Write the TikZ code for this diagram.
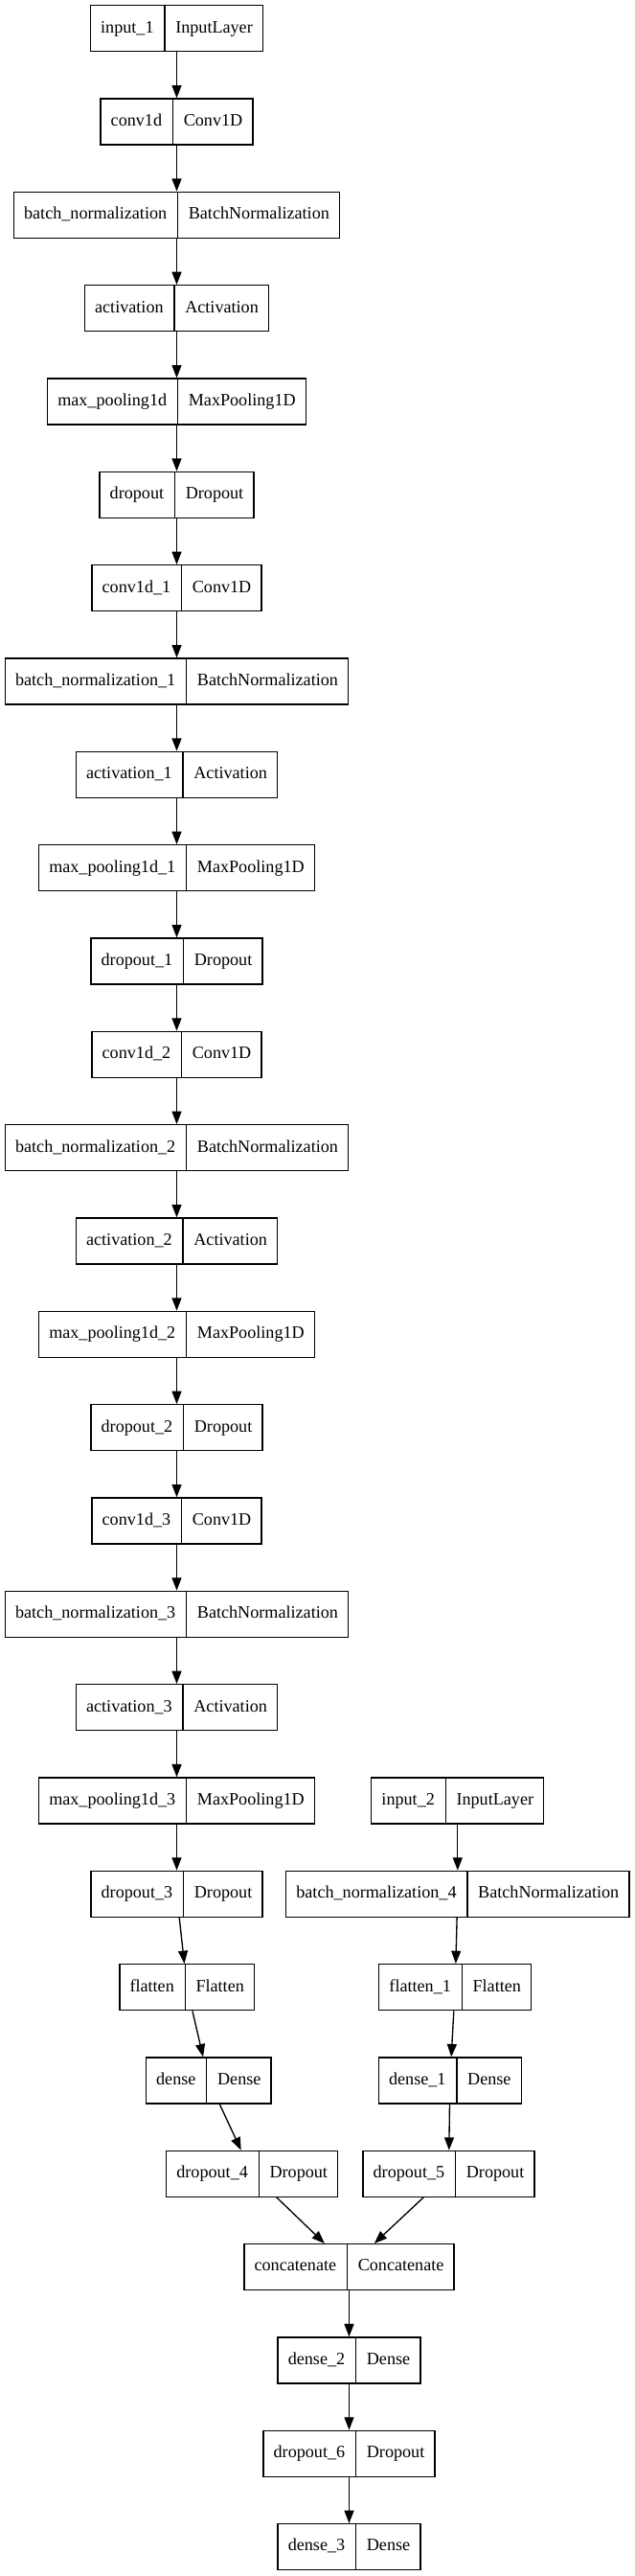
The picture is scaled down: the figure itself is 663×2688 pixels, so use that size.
\documentclass[tikz,border=0pt]{standalone}
\usepackage{fontspec}
\setmainfont{Liberation Serif}
\usetikzlibrary{shapes.multipart,arrows.meta}

% one record: layer name | layer type
\newcommand\rec[2]{\strut#1\nodepart{two}\strut#2}

\begin{document}
\begin{tikzpicture}[
  x=0.75pt, y=-0.75pt, % one unit = one pixel of the plot, y down
  layer/.style={draw, line width=1pt, rectangle split, rectangle split horizontal,
    rectangle split parts=2, inner xsep=8pt, inner ysep=9.85pt,
    font=\fontsize{13.6}{16.3}\selectfont},
  edge/.style={line width=1pt, -{Triangle[length=10pt,width=7.5pt]}}
]
  % ---- sizes ----
  \def\R{97.33} % row pitch
  \def\Y{29.7}  % centre of first row

  \useasboundingbox (0,0) rectangle (663,2688);

  % ---- layers: x / row / name / label / type ----
  \foreach \x/\i/\nm/\lbl/\typ in {
    184.5/0/in1/input\_1/InputLayer,
    184.5/1/conv0/conv1d/Conv1D,
    184.5/2/bn0/batch\_normalization/BatchNormalization,
    184.5/3/act0/activation/Activation,
    184.5/4/pool0/max\_pooling1d/MaxPooling1D,
    184.5/5/drop0/dropout/Dropout,
    184.5/6/conv1/conv1d\_1/Conv1D,
    184.5/7/bn1/batch\_normalization\_1/BatchNormalization,
    184.5/8/act1/activation\_1/Activation,
    184.5/9/pool1/max\_pooling1d\_1/MaxPooling1D,
    184.5/10/drop1/dropout\_1/Dropout,
    184.5/11/conv2/conv1d\_2/Conv1D,
    184.5/12/bn2/batch\_normalization\_2/BatchNormalization,
    184.5/13/act2/activation\_2/Activation,
    184.5/14/pool2/max\_pooling1d\_2/MaxPooling1D,
    184.5/15/drop2/dropout\_2/Dropout,
    184.5/16/conv3/conv1d\_3/Conv1D,
    184.5/17/bn3/batch\_normalization\_3/BatchNormalization,
    184.5/18/act3/activation\_3/Activation,
    184.5/19/pool3/max\_pooling1d\_3/MaxPooling1D,
    184.5/20/drop3/dropout\_3/Dropout,
    195.2/21/flat0/flatten/Flatten,
    217.8/22/dense0/dense/Dense,
    263.2/23/drop4/dropout\_4/Dropout,
    477.8/19/in2/input\_2/InputLayer,
    477.8/20/bn4/batch\_normalization\_4/BatchNormalization,
    475.2/21/flat1/flatten\_1/Flatten,
    469.8/22/dense1/dense\_1/Dense,
    468.5/23/drop5/dropout\_5/Dropout,
    364.5/24/cat/concatenate/Concatenate,
    364.5/25/dense2/dense\_2/Dense,
    364.5/26/drop6/dropout\_6/Dropout,
    364.5/27/dense3/dense\_3/Dense}{
    \node[layer] (\nm) at (\x, \Y+\i*\R) {\rec{\lbl}{\typ}};
  }

  % ---- edges ----
  \foreach \a/\b in {
    in1/conv0, conv0/bn0, bn0/act0, act0/pool0, pool0/drop0,
    drop0/conv1, conv1/bn1, bn1/act1, act1/pool1, pool1/drop1,
    drop1/conv2, conv2/bn2, bn2/act2, act2/pool2, pool2/drop2,
    drop2/conv3, conv3/bn3, bn3/act3, act3/pool3, pool3/drop3,
    drop3/flat0, flat0/dense0, dense0/drop4, drop4/cat,
    in2/bn4, bn4/flat1, flat1/dense1, dense1/drop5, drop5/cat,
    cat/dense2, dense2/drop6, drop6/dense3}{
    \draw[edge] (\a) -- (\b);
  }
\end{tikzpicture}
\end{document}
